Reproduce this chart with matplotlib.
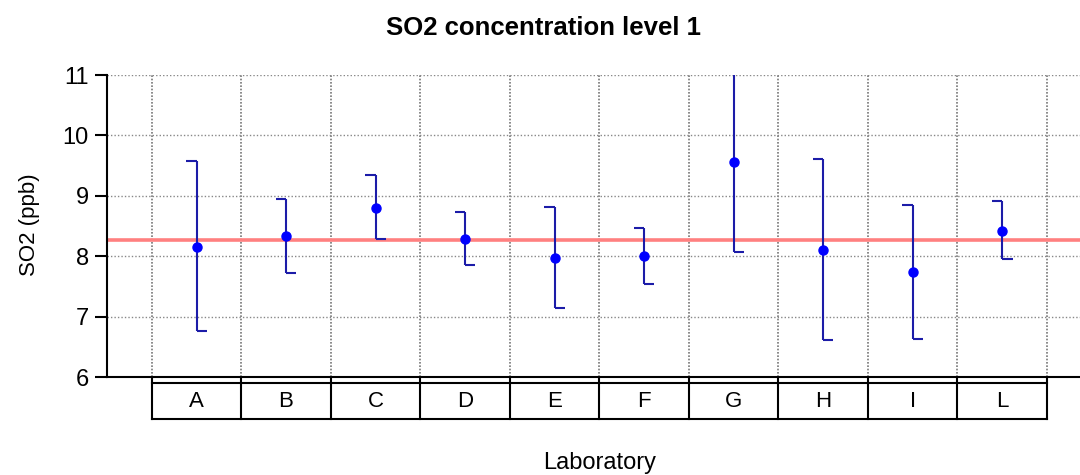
import numpy as np
import matplotlib
matplotlib.use('Agg')
import matplotlib.pyplot as plt
import matplotlib.transforms as mtransforms

# data
labs = ['A', 'B', 'C', 'D', 'E', 'F', 'G', 'H', 'I', 'L']
means = [8.16, 8.34, 8.80, 8.28, 7.97, 8.00, 9.56, 8.10, 7.74, 8.42]
upper = [9.58, 8.95, 9.34, 8.73, 8.81, 8.47, 11.05, 9.61, 8.85, 8.91]
lower = [6.76, 7.73, 8.28, 7.85, 7.14, 7.54, 8.07, 6.61, 6.63, 7.95]
ref_value = 8.27

plt.rcParams['font.family'] = ['Liberation Sans', 'DejaVu Sans']

W, H = 1080, 475
fig = plt.figure(figsize=(W / 100, H / 100), dpi=100)
ax = fig.add_axes([107 / W, 98 / H, 973 / W, 302 / H])

x = np.arange(len(labs))
cap = 0.115
bar_col = '#1c1ca8'

ax.axhline(ref_value, color='#ff8080', lw=2.6, zorder=2)
ax.vlines(x, lower, upper, color=bar_col, lw=1.5, zorder=3)
ax.hlines(upper, x - cap, x, color=bar_col, lw=1.5, zorder=3)
ax.hlines(lower, x, x + cap, color=bar_col, lw=1.5, zorder=3)
ax.plot(x, means, 'o', color='#0000ff', ms=6.5, zorder=4)

ax.set_xlim(-1.0, len(labs) - 0.5 + 33 / 89.5)
ax.set_ylim(6, 11)
ax.set_yticks(range(6, 12))
ax.set_xticks([])
ax.grid(axis='y', color='#888888', ls=(0, (1, 1.5)), lw=1)
bounds = np.arange(len(labs) + 1) - 0.5
ax.vlines(bounds, 6, 11, color='#777777', ls=(0, (1, 1)), lw=1.2, zorder=1)

for s in ['top', 'right']:
    ax.spines[s].set_visible(False)
ax.spines['left'].set_linewidth(1.5)
ax.spines['bottom'].set_linewidth(1.5)
ax.tick_params(axis='y', length=9, width=1.5, labelsize=17, pad=4)

# category label boxes under the axis
tr = mtransforms.blended_transform_factory(ax.transData, ax.transAxes)
y_top, y_bot = -0.02, -0.139
ax.plot([bounds[0], bounds[-1]], [y_top, y_top], color='black', lw=1.5, transform=tr, clip_on=False)
ax.plot([bounds[0], bounds[-1]], [y_bot, y_bot], color='black', lw=1.5, transform=tr, clip_on=False)
for b in bounds:
    ax.plot([b, b], [0, y_bot], color='black', lw=1.5, transform=tr, clip_on=False)
for xi, lab in zip(x, labs):
    ax.text(xi, (y_top + y_bot) / 2, lab, transform=tr, ha='center', va='center', fontsize=16)

ax.text(4.5, -0.285, 'Laboratory', transform=tr, ha='center', va='center', fontsize=17)
fig.text(30 / W, 1 - 225 / H, 'SO2 (ppb)', rotation=90, ha='center', va='center', fontsize=16)
fig.text(544 / W, 1 - 28 / H, 'SO2 concentration level 1', ha='center', va='center',
         fontsize=18.5, fontweight='bold')

fig.savefig('out.png', dpi=100)
